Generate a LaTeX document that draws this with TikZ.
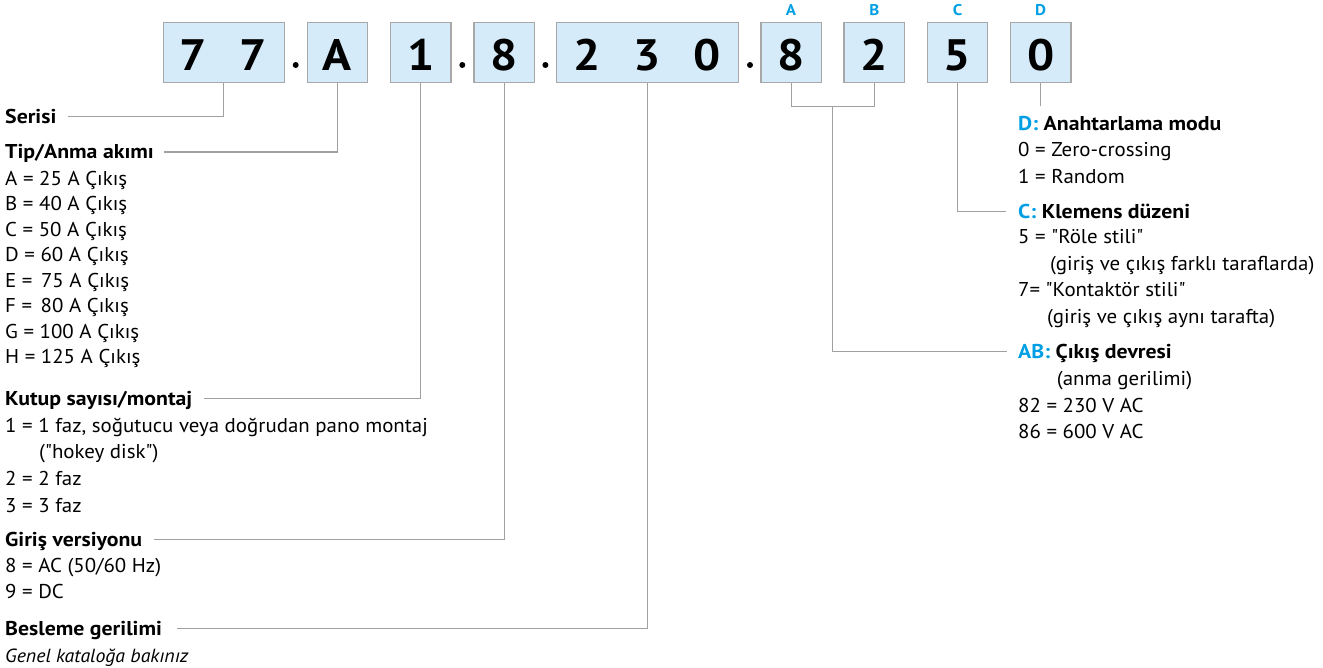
\documentclass[tikz,border=0pt]{standalone}
\usepackage{fontspec}
\setmainfont{PT Sans}[Ligatures=TeXOff, FakeStretch=1.045, BoldFeatures={FakeStretch=1.09}]
\usetikzlibrary{calc}
\definecolor{boxfill}{HTML}{D5EBF9}
\definecolor{boxline}{HTML}{A8A8A8}
\definecolor{connc}{HTML}{A0A0A0}
\definecolor{accent}{HTML}{009FE3}
\tikzset{
  codebox/.style={draw=boxline, fill=boxfill, line width=1.3pt, minimum height=60.4pt, inner sep=0pt},
  digit/.style={font=\fontsize{44}{44}\selectfont\bfseries, inner sep=0pt, text height=30.8pt, text depth=0pt},
  letter/.style={font=\fontsize{15.5}{15.5}\selectfont\bfseries, text=accent, inner sep=0pt, text height=10.9pt, text depth=0pt},
  sep/.style={circle, fill=black, inner sep=0pt, minimum size=6pt},
  lbl/.style={anchor=west, inner sep=0pt, text height=14pt, text depth=0pt, font=\fontsize{20}{20}\selectfont},
  ttl/.style={lbl, font=\fontsize{20}{20}\selectfont\bfseries},
  note/.style={lbl, font=\fontsize{19}{19}\selectfont\itshape},
  connector/.style={draw=connc, line width=1.1pt},
}
\begin{document}
\begin{tikzpicture}[x=1pt,y=-1pt]
\useasboundingbox (0,0) rectangle (1323,668);
% code boxes
\node[codebox, minimum width=121pt]   (b77)  at (223.8,52.5) {};
\node[codebox, minimum width=60.4pt]  (bA)   at (337.5,52.5) {};
\node[codebox, minimum width=60.4pt]  (b1)   at (420.8,52.5) {};
\node[codebox, minimum width=60.4pt]  (b8)   at (504.1,52.5) {};
\node[codebox, minimum width=181.6pt] (b230) at (647.5,52.5) {};
\node[codebox, minimum width=60.4pt]  (bp8)  at (791.1,52.5) {};
\node[codebox, minimum width=60.4pt]  (bp2)  at (874.3,52.5) {};
\node[codebox, minimum width=60.4pt]  (b5)   at (957.5,52.5) {};
\node[codebox, minimum width=60.4pt]  (b0)   at (1040.7,52.5) {};
% digits
\node[digit] (d1) at (193.5,55) {7};
\node[digit] (d2) at (253.5,55) {7};
\node[digit] (d3) at (337.5,55) {A};
\node[digit] (d4) at (420.8,55) {1};
\node[digit] (d5) at (504.1,55) {8};
\node[digit] (d6) at (587.0,55) {2};
\node[digit] (d7) at (647.5,55) {3};
\node[digit] (d8) at (707.5,55) {0};
\node[digit] (d9) at (791.1,55) {8};
\node[digit] (d10) at (874.3,55) {2};
\node[digit] (d11) at (957.5,55) {5};
\node[digit] (d12) at (1040.7,55) {0};
% separator dots
\node[sep] (s1) at (295.7,65) {};
\node[sep] (s2) at (462.3,65) {};
\node[sep] (s3) at (545.4,65) {};
\node[sep] (s4) at (750.0,65) {};
% position letters
\node[letter] (lA) at (791.1,10) {A};
\node[letter] (lB) at (874.3,10) {B};
\node[letter] (lC) at (957.5,10) {C};
\node[letter] (lD) at (1040.7,10) {D};
% left descriptions
\node[ttl] (serisi) at (5,116.7) {Serisi};
\node[ttl] (tip) at (5,152) {Tip/Anma akımı};
\node[lbl] (tA) at (5,178.3) {A = 25 A Çıkış};
\node[lbl] (tB) at (5,203.8) {B = 40 A Çıkış};
\node[lbl] (tC) at (5,229.3) {C = 50 A Çıkış};
\node[lbl] (tD) at (5,254.8) {D = 60 A Çıkış};
\node[lbl] (tE) at (5,280.3) {E = \hspace{3pt}75 A Çıkış};
\node[lbl] (tF) at (5,305.8) {F = \hspace{3pt}80 A Çıkış};
\node[lbl] (tG) at (5,331.3) {G = 100 A Çıkış};
\node[lbl] (tH) at (5,356.8) {H = 125 A Çıkış};
\node[ttl] (kutup) at (5,398.3) {Kutup sayısı/montaj};
\node[lbl] (k1) at (5,425) {1 = 1 faz, soğutucu veya doğrudan pano montaj};
\node[lbl] (k1b) at (39,451.7) {("hokey disk")};
\node[lbl] (k2) at (5,478.3) {2 = 2 faz};
\node[lbl] (k3) at (5,505) {3 = 3 faz};
\node[ttl] (giris) at (5,539.3) {Giriş versiyonu};
\node[lbl] (g8) at (5,565) {8 = AC (50/60 Hz)};
\node[lbl] (g9) at (5,591.7) {9 = DC};
\node[ttl] (besleme) at (5,628.3) {Besleme gerilimi};
\node[note] (genel) at (5,655) {Genel kataloğa bakınız};
% right descriptions
\node[ttl] (dttl) at (1018,123.3) {\textcolor{accent}{D:} Anahtarlama modu};
\node[lbl] (d0) at (1018,150) {0 = Zero-crossing};
\node[lbl] (d1r) at (1018,176.7) {1 = Random};
\node[ttl] (cttl) at (1018,211.7) {\textcolor{accent}{C:} Klemens düzeni};
\node[lbl] (c5) at (1018,236.7) {5 = "Röle stili"};
\node[lbl] (c5b) at (1050,263.3) {(giriş ve çıkış farklı taraflarda)};
\node[lbl] (c7) at (1018,290) {7= "Kontaktör stili"};
\node[lbl] (c7b) at (1047,316.7) {(giriş ve çıkış aynı tarafta)};
\node[ttl] (abttl) at (1018,351.7) {\textcolor{accent}{AB:} Çıkış devresi};
\node[lbl] (ab0) at (1056.7,378.3) {(anma gerilimi)};
\node[lbl] (ab1) at (1018,405) {82 = 230 V AC};
\node[lbl] (ab2) at (1018,431.7) {86 = 600 V AC};
% connectors
\draw[connector] (b77.south) |- ($(serisi.east)+(11,0)$);
\draw[connector] (bA.south) |- ($(tip.east)+(10,0)$);
\draw[connector] (b1.south) |- ($(kutup.east)+(12,0)$);
\draw[connector] (b8.south) |- ($(giris.east)+(12,0)$);
\draw[connector] (b230.south) |- ($(besleme.east)+(15,0)$);
\coordinate (abmid) at ($(bp8.south)!0.5!(bp2.south)+(0,23.5)$);
\draw[connector] (bp8.south) |- (abmid) -| (bp2.south);
\draw[connector] (abmid) |- ($(abttl.west)+(-11,0)$);
\draw[connector] (b5.south) |- ($(cttl.west)+(-12,0)$);
\coordinate (dend) at ($(b0.south)+(0,22.5)$);
\draw[connector] (b0.south) -- (dend);
\end{tikzpicture}
\end{document}
